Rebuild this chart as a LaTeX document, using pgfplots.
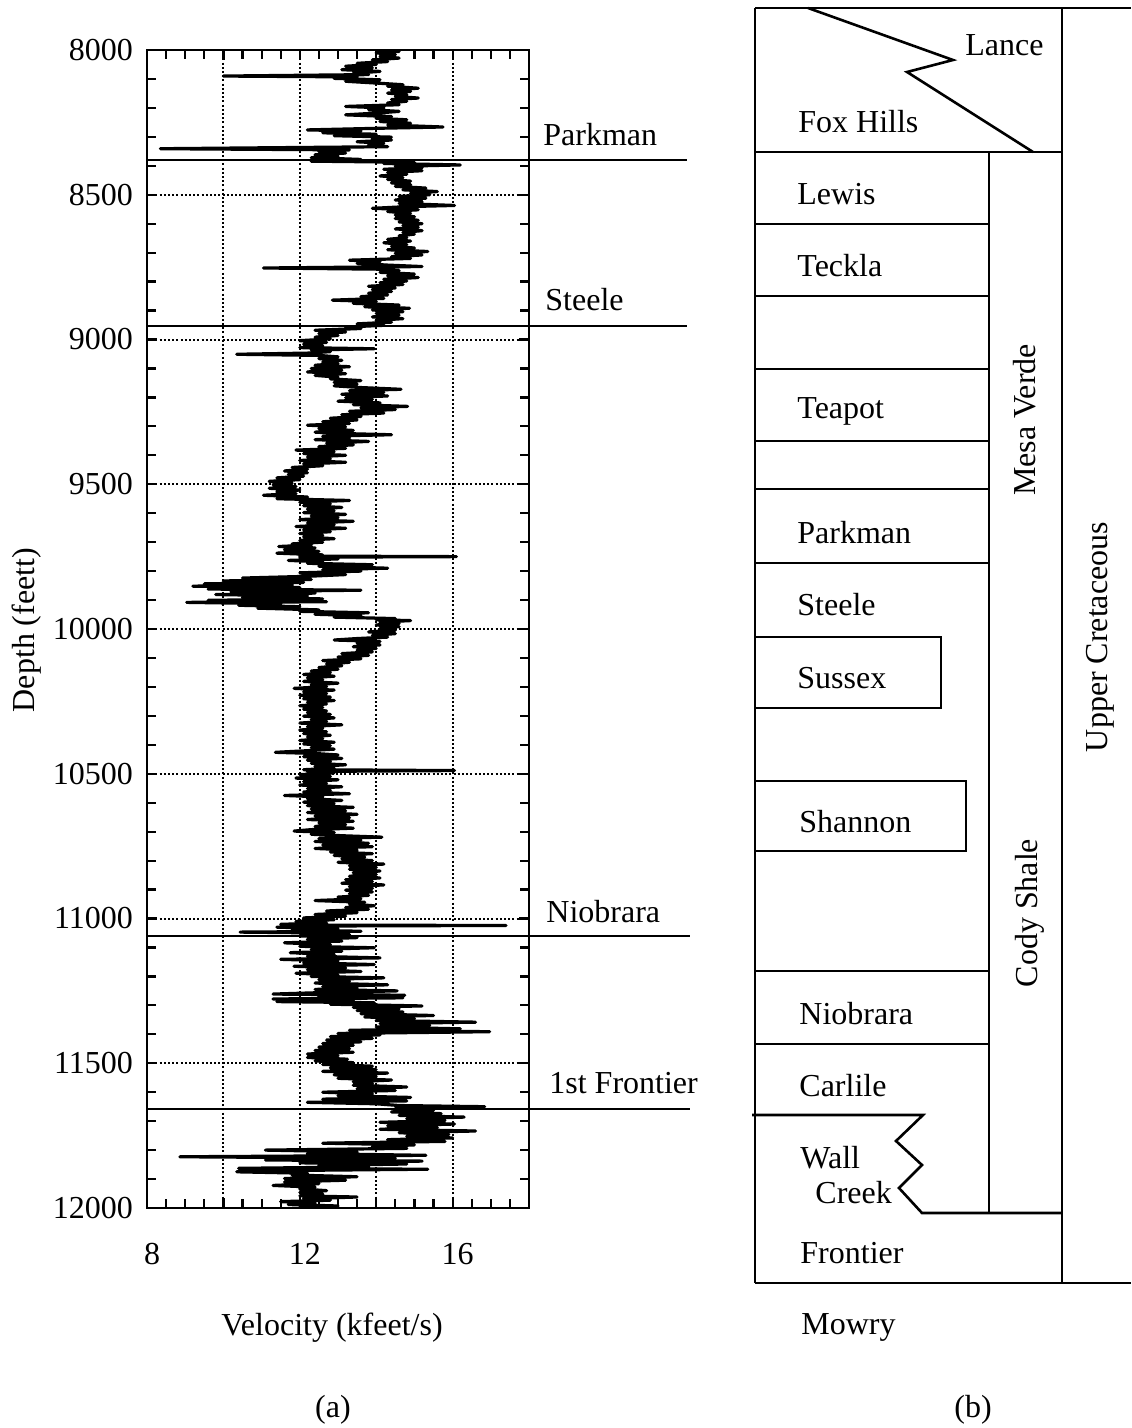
\documentclass[border=0pt]{standalone}
\usepackage{fontspec}
\setmainfont{Liberation Serif}
\usepackage{pgfplots}
\pgfplotsset{compat=1.18}
\tikzset{every node/.append style={font=\fontsize{16}{19}\selectfont},
  lbl/.style={anchor=west, inner sep=0pt}}
\begin{document}
\fontsize{16}{19}\selectfont
\begin{tikzpicture}
\useasboundingbox (0,0) rectangle (565.5pt,714pt);
% page in pixel units (y down): column, formation lines and text
\begin{axis}[at={(0,0)}, anchor=south west, scale only axis,
  width=565.5pt, height=714pt, xmin=0, xmax=1131, ymin=0, ymax=1428,
  y dir=reverse, axis lines=none, clip=false,
  every axis plot post/.append style={black, solid, line width=1.3pt, mark=none}]
% tops picked on the log
\addplot coordinates {(147,160) (687,160)};
\addplot coordinates {(147,326) (687,326)};
\addplot coordinates {(147,936) (690,936)};
\addplot coordinates {(147,1109) (690,1109)};
% stratigraphic column
\addplot coordinates {(755,8) (755,1283)};
\addplot coordinates {(755,8) (1131,8)};
\addplot coordinates {(755,1283) (1131,1283)};
\addplot coordinates {(1062,8) (1062,1283)};
\addplot coordinates {(755,152) (1062,152)};
\addplot coordinates {(808,8) (953,60) (907,72) (1033,152)};
\addplot coordinates {(989,152) (989,1213)};
\addplot coordinates {(755,224) (989,224)};
\addplot coordinates {(755,296) (989,296)};
\addplot coordinates {(755,369) (989,369)};
\addplot coordinates {(755,441) (989,441)};
\addplot coordinates {(755,489) (989,489)};
\addplot coordinates {(755,563) (989,563)};
\addplot coordinates {(755,637) (941,637) (941,708) (755,708)};
\addplot coordinates {(755,781) (966,781) (966,851) (755,851)};
\addplot coordinates {(755,971) (989,971)};
\addplot coordinates {(755,1044) (989,1044)};
\addplot coordinates {(752,1115) (923,1115) (896,1141) (922,1165) (899,1188) (922,1213) (1062,1213)};

\node[lbl] at (axis cs:543,135) {Parkman};
\node[lbl] at (axis cs:545,300) {Steele};
\node[lbl] at (axis cs:546,912) {Niobrara};
\node[lbl] at (axis cs:549,1083) {1st Frontier};

\node[lbl] at (axis cs:965,45) {Lance};
\node[lbl] at (axis cs:798,122) {Fox Hills};
\node[lbl] at (axis cs:797,194) {Lewis};
\node[lbl] at (axis cs:797,266) {Teckla};
\node[lbl] at (axis cs:797,411) {Teapot};
\node[lbl] at (axis cs:797,533) {Parkman};
\node[lbl] at (axis cs:797,605) {Steele};
\node[lbl] at (axis cs:797,678) {Sussex};
\node[lbl] at (axis cs:799,822) {Shannon};
\node[lbl] at (axis cs:799,1014) {Niobrara};
\node[lbl] at (axis cs:799,1086) {Carlile};
\node[lbl] at (axis cs:800,1158) {Wall};
\node[lbl] at (axis cs:815,1193) {Creek};
\node[lbl] at (axis cs:800,1253) {Frontier};
\node[lbl] at (axis cs:801,1327) {Mowry};
\node[rotate=90] at (axis cs:1025,420) {Mesa Verde};
\node[rotate=90] at (axis cs:1030,913) {Cody Shale};
\node[rotate=90] at (axis cs:1100,637) {Upper Cretaceous};

\node at (axis cs:332,1328) {Velocity (kfeet/s)};
\node[rotate=90] at (axis cs:27,630) {Depth (feett)};
\node at (axis cs:333,1410) {(a)};
\node at (axis cs:973,1410) {(b)};
\end{axis}

% velocity log
\begin{axis}[at={(73.5pt,110pt)}, anchor=south west, scale only axis,
  width=191pt, height=579pt,
  xmin=8, xmax=18, ymin=8000, ymax=12000, y dir=reverse,
  xtick={8,10,...,18}, xticklabels={8,,12,,16,},
  ytick={8000,8500,...,12000},
  scaled ticks=false,
  minor x tick num=3, minor y tick num=4,
  grid=major,
  major grid style={black, line width=1pt, dash pattern=on 1pt off 1.1pt},
  axis line style={line width=1.3pt},
  every tick/.style={black, line width=1.1pt},
  major tick length=5pt, minor tick length=4.5pt,
  /pgf/number format/assume math mode=true,
  /pgf/number format/fixed,
  /pgf/number format/1000 sep={},
  xticklabel style={yshift=-12pt, xshift=2.5pt},
  yticklabel style={xshift=-1.5pt}]
\addplot[black, line width=1.6pt, line join=round, no markers] coordinates {
(14.3,8000) (14.6,8005) (14.0,8010) (14.5,8016) (14.1,8022) (14.6,8028) (13.9,8034) (14.3,8040) (13.5,8046) (14.0,8050)
(13.2,8056) (13.9,8062) (13.1,8068) (14.1,8074) (13.4,8080) (13.8,8085) (10.0,8090) (13.5,8093) (12.9,8098) (14.1,8103)
(13.2,8108) (14.1,8115) (14.7,8120) (14.3,8125) (15.1,8132) (14.4,8138) (14.9,8143) (14.3,8149) (14.8,8154) (14.5,8160)
(15.1,8166) (14.4,8171) (14.8,8177) (14.3,8183) (14.6,8189) (13.2,8195) (14.2,8200) (13.8,8206) (14.6,8212) (14.0,8218)
(13.2,8224) (14.4,8230) (14.0,8236) (14.8,8241) (14.1,8247) (14.9,8253) (14.3,8259) (15.75,8266) (14.2,8270) (12.2,8276)
(13.6,8280) (12.6,8286) (14.0,8291) (12.9,8296) (14.4,8301) (13.9,8306) (14.4,8311) (13.5,8317) (14.2,8322) (13.8,8328)
(14.3,8334) (8.35,8341) (13.3,8345) (12.5,8351) (13.2,8356) (12.4,8362) (13.0,8367) (12.3,8372) (13.6,8378) (12.3,8384)
(15.0,8388) (14.2,8392) (16.2,8397) (14.5,8402) (15.2,8407)
(14.2,8412) (15.2,8417) (14.3,8423) (14.8,8429) (14.1,8435) (14.7,8441) (14.3,8447) (14.9,8453) (14.4,8459) (14.9,8465)
(14.5,8471) (15.3,8477) (14.7,8483) (15.6,8489) (14.9,8495) (15.4,8500)
(14.6,8506) (15.3,8512) (14.5,8518) (15.2,8524) (14.6,8530) (16.05,8537) (14.8,8541) (13.9,8547) (15.1,8552) (14.3,8558)
(14.9,8564) (14.5,8570) (15.0,8576) (14.5,8582) (15.1,8588) (14.6,8594) (15.2,8600) (14.7,8606) (15.1,8612) (14.5,8618)
(15.2,8624) (14.7,8630) (15.0,8636) (14.6,8642)
(14.8,8648) (14.3,8654) (14.9,8660) (14.2,8666) (14.8,8672) (14.4,8678) (15.0,8684) (14.3,8690) (15.35,8696) (14.5,8702)
(15.2,8708) (14.4,8714) (14.9,8720) (13.3,8726) (14.1,8731) (13.5,8737) (14.3,8743) (15.2,8748) (11.05,8753) (14.0,8757)
(14.6,8762) (14.1,8768) (15.0,8774) (14.3,8780) (15.1,8786) (14.2,8792) (14.8,8798) (14.1,8804) (14.7,8810) (13.8,8816)
(14.5,8822) (13.9,8828) (14.4,8834) (13.8,8840) (14.3,8846) (13.6,8852) (14.2,8858) (12.85,8864) (14.0,8869) (13.4,8875)
(14.6,8881) (13.7,8887) (14.87,8892) (13.9,8898) (14.7,8904) (14.0,8910) (14.6,8916) (13.9,8922) (14.7,8928) (14.0,8934)
(14.4,8940) (13.5,8946) (14.2,8951) (13.2,8957) (13.6,8962) (12.4,8968) (13.2,8974) (12.5,8980) (13.0,8986) (12.4,8992)
(12.8,8998) (12.0,9004) (12.7,9010) (12.1,9016) (12.6,9022) (12.0,9028) (13.95,9032) (12.3,9036) (12.8,9042) (12.2,9047)
(10.35,9051) (12.5,9055) (13.0,9060) (12.5,9066) (13.1,9072) (12.6,9078) (13.0,9083) (12.4,9089) (13.3,9094) (12.3,9100)
(13.1,9106) (12.2,9112) (13.2,9118) (12.4,9124) (13.0,9130) (12.8,9136) (13.6,9142) (12.9,9148) (13.5,9154) (12.9,9160)
(13.6,9166) (14.65,9172) (13.3,9177) (14.2,9183) (13.1,9189) (14.3,9195) (13.2,9201) (13.9,9207) (13.0,9213) (14.1,9219)
(13.4,9225) (14.82,9231) (13.6,9236) (14.5,9242) (13.3,9248) (14.2,9254) (13.1,9260) (13.6,9266) (12.8,9272) (13.5,9278)
(12.6,9284) (13.3,9290) (12.2,9296) (13.2,9302)
(12.5,9308) (13.4,9314) (12.4,9320) (13.2,9325) (14.4,9329) (12.6,9334) (13.3,9340) (12.4,9346) (13.8,9352) (12.7,9358)
(13.4,9364) (12.5,9370) (13.2,9376) (11.9,9382) (12.9,9388) (12.1,9394) (13.2,9400) (12.2,9406) (12.8,9412) (12.0,9418)
(13.2,9424) (12.1,9430) (12.6,9436) (11.8,9442) (12.2,9448) (11.6,9454) (12.2,9460) (11.7,9466) (12.1,9472) (11.4,9478)
(12.0,9484) (11.2,9490) (11.8,9496) (11.3,9502) (11.9,9508) (11.2,9514) (12.0,9520) (11.4,9526) (11.9,9532) (11.05,9538)
(12.2,9544) (11.4,9550) (13.3,9556) (12.0,9562) (12.8,9568) (12.1,9574) (13.1,9580) (12.2,9586) (12.9,9592) (12.1,9598)
(13.2,9604) (12.3,9610) (13.0,9616) (12.0,9622) (13.4,9628) (12.2,9634) (12.9,9640) (11.9,9646) (13.2,9652) (12.1,9658)
(12.8,9664) (12.0,9670) (12.6,9676) (12.1,9682) (12.9,9688) (12.0,9694) (12.6,9700) (11.8,9706) (12.3,9710) (11.45,9715)
(12.4,9720) (11.6,9726) (12.5,9732) (11.4,9738) (12.6,9744) (12.0,9748) (16.1,9750) (12.0,9752) (13.0,9758) (11.7,9763)
(12.6,9768) (12.2,9773) (13.9,9778) (12.5,9783) (14.3,9790) (12.6,9795) (13.6,9800) (12.0,9806) (13.2,9812) (12.2,9818)
(10.5,9824) (12.3,9829) (10.0,9834) (12.1,9839) (9.5,9844) (11.8,9848) (9.2,9852) (12.0,9857) (9.6,9862) (13.6,9866)
(10.2,9871) (12.4,9876) (9.8,9881) (12.2,9886) (10.5,9891) (12.6,9896) (9.6,9901) (12.7,9906) (9.04,9908) (11.5,9913)
(10.4,9918) (12.0,9923) (10.9,9928) (12.5,9934) (12.0,9939) (13.8,9944) (12.4,9949) (13.6,9954) (12.9,9959) (14.5,9964)
(14.0,9968) (14.9,9971) (14.1,9976) (14.6,9981) (14.0,9986) (14.6,9992) (14.1,9998) (14.5,10004) (13.8,10010) (14.5,10016)
(13.9,10022) (14.3,10028) (13.5,10033) (12.9,10038) (14.1,10043) (13.5,10049) (14.1,10055) (13.4,10061) (14.0,10067) (13.5,10073)
(13.9,10079) (13.1,10085) (13.8,10091) (13.0,10097) (13.6,10103) (12.6,10109) (13.3,10115) (12.7,10121) (13.1,10127) (12.5,10133)
(13.0,10139) (12.3,10145) (12.8,10151) (12.1,10157) (12.9,10163) (12.2,10169) (12.6,10175) (12.1,10181) (13.0,10187) (12.3,10193)
(12.7,10199) (11.85,10205) (12.9,10211) (12.1,10217) (12.7,10223) (12.0,10229) (12.8,10235) (12.1,10241) (12.9,10247) (12.2,10253)
(12.7,10259) (12.0,10265) (12.6,10271) (12.1,10277) (12.7,10283) (12.2,10289) (12.8,10295) (12.1,10301) (12.9,10307) (12.3,10313)
(12.7,10319) (12.0,10325) (13.1,10331) (12.2,10337) (12.6,10343) (12.0,10349) (12.7,10355) (12.1,10361) (12.8,10367) (12.2,10373)
(12.6,10379) (12.0,10385) (12.9,10391) (12.1,10397) (12.8,10403) (12.3,10409) (12.9,10415) (12.1,10421) (11.36,10426) (12.4,10430)
(13.0,10435) (12.1,10441) (13.1,10447) (12.2,10453) (12.8,10458) (12.3,10464) (13.2,10469) (12.4,10475) (12.9,10481) (12.1,10486)
(16.05,10489) (12.2,10492) (12.9,10497) (12.0,10503) (12.8,10509) (11.9,10515) (13.0,10521) (12.1,10527) (12.7,10533) (12.0,10539)
(13.1,10545) (12.2,10551) (12.8,10557) (12.1,10563) (13.3,10569) (11.6,10575) (12.6,10580) (12.2,10586) (13.1,10592) (12.1,10598)
(12.9,10604)
(12.2,10610) (13.4,10616) (12.3,10622) (13.2,10628) (12.2,10634) (13.5,10640) (12.4,10646) (13.3,10652) (12.2,10658) (13.4,10664)
(12.5,10670) (13.2,10676) (12.4,10682) (13.4,10688) (12.3,10693) (11.85,10698) (12.9,10703) (12.3,10709) (13.1,10714) (14.15,10719)
(12.5,10724) (13.6,10729) (12.4,10734) (13.8,10740) (12.6,10746) (13.9,10752) (12.4,10758) (13.5,10764) (12.8,10770) (13.9,10776)
(12.9,10782) (13.7,10788) (13.1,10794) (13.9,10800) (13.0,10806) (14.2,10812) (13.3,10818) (14.0,10824) (13.3,10830) (14.1,10836)
(13.4,10842) (14.0,10848) (13.3,10854) (14.1,10860) (13.2,10866) (13.9,10872) (13.1,10878) (14.2,10884) (13.3,10890) (13.9,10896)
(13.2,10902) (13.9,10908) (13.3,10914) (13.8,10920) (13.0,10926) (13.6,10932) (12.4,10938) (13.7,10944) (13.3,10950) (13.95,10956)
(13.2,10962) (13.8,10968) (12.7,10974) (13.5,10980) (12.4,10986) (13.2,10992) (12.1,10998) (12.9,11004) (11.9,11010) (12.7,11016)
(11.5,11020) (12.4,11023) (17.4,11024) (12.3,11026) (11.4,11030) (13.0,11035) (11.8,11040) (13.6,11044) (10.44,11047) (12.6,11050)
(13.3,11055) (12.0,11060) (13.5,11066) (12.2,11072) (13.1,11078) (11.6,11084) (12.8,11090) (12.0,11096) (13.95,11101) (12.3,11107)
(13.1,11113) (11.75,11118) (12.9,11124) (12.2,11130) (14.1,11136) (11.5,11141) (13.0,11147) (12.1,11153) (13.95,11159) (11.85,11165)
(13.2,11171) (12.2,11177) (13.6,11183) (11.9,11189) (13.0,11195) (12.3,11200) (14.2,11205) (12.5,11211) (13.3,11217) (12.4,11223)
(14.3,11229) (12.6,11235) (13.5,11240) (12.4,11245) (14.55,11250) (12.8,11255) (11.3,11261) (14.75,11265)
(12.5,11270) (14.7,11274) (11.3,11278) (13.4,11282) (11.4,11287) (13.95,11291) (12.8,11296) (15.2,11302) (13.4,11307) (14.6,11312)
(13.5,11318) (14.7,11323) (13.6,11329) (15.5,11335) (13.7,11340) (15.0,11346) (14.0,11352) (16.6,11358) (14.1,11363) (15.4,11369)
(14.0,11375) (16.2,11381) (13.3,11386) (16.97,11391) (13.0,11397) (14.1,11402) (12.8,11408) (13.9,11414) (12.7,11420) (13.6,11426)
(12.6,11432) (13.4,11438) (12.5,11444) (13.3,11450) (12.4,11456) (13.4,11462) (12.2,11468) (13.0,11474) (12.2,11480) (13.25,11486)
(12.4,11492) (13.4,11498) (12.6,11504) (13.9,11510) (12.8,11516) (14.0,11522) (12.6,11528) (14.3,11534) (12.9,11540) (14.0,11546)
(13.0,11552) (14.4,11558) (13.4,11564) (13.9,11570) (13.4,11576) (14.8,11582) (13.5,11588) (14.5,11594) (12.6,11600) (13.9,11606)
(13.0,11612) (14.9,11618) (12.6,11624) (14.8,11630) (12.2,11635) (14.0,11640) (14.6,11646) (16.84,11650) (14.5,11656) (15.5,11662)
(14.4,11668) (15.7,11674) (14.6,11680) (16.3,11686) (14.8,11692) (15.8,11698) (14.1,11704) (16.05,11710) (14.3,11716) (15.6,11722)
(14.1,11728) (16.6,11734) (14.6,11740) (15.9,11746) (14.8,11752) (16.0,11758) (14.3,11764) (15.8,11770) (12.6,11776) (15.0,11782)
(13.9,11788) (14.8,11794) (11.1,11800) (13.5,11806) (12.2,11812) (15.3,11818) (8.86,11823) (14.5,11828) (11.1,11834) (15.2,11838)
(12.0,11844) (14.8,11848) (12.5,11853) (13.8,11858) (10.4,11863) (15.35,11866) (12.0,11870) (10.35,11875) (12.2,11880) (11.8,11886)
(13.5,11892) (11.6,11898) (13.2,11904) (11.6,11910) (12.5,11916) (11.3,11922) (12.4,11928) (12.0,11934) (12.7,11940) (12.0,11946)
(12.6,11952) (12.0,11958) (13.5,11962) (12.1,11968) (12.8,11973) (11.5,11978) (12.4,11983) (11.7,11988) (13.0,11993) (12.0,11998)
(12.3,12000)
};
\end{axis}
\end{tikzpicture}
\end{document}
